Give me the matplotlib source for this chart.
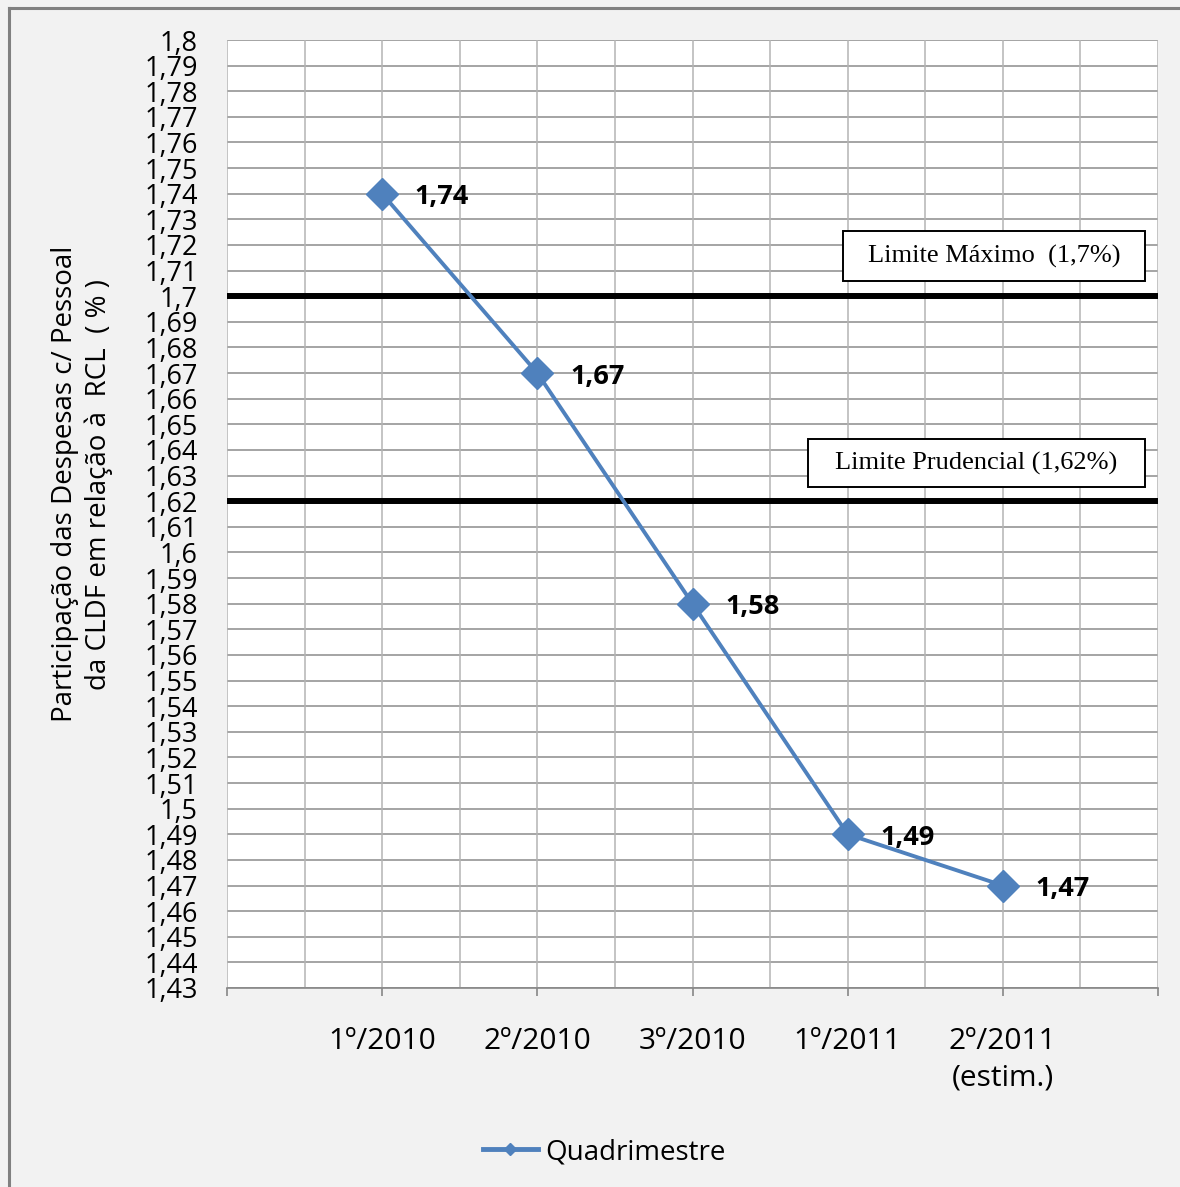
import numpy as np
import matplotlib
matplotlib.use('Agg')
import matplotlib.pyplot as plt
from matplotlib.patches import Rectangle
from matplotlib.lines import Line2D

plt.rcParams['font.family'] = ['Open Sans', 'DejaVu Sans']

# ---- data ----
categorias = ['1º/2010', '2º/2010', '3º/2010', '1º/2011', '2º/2011\n(estim.)']
valores = [1.74, 1.67, 1.58, 1.49, 1.47]
limite_maximo = 1.70
limite_prudencial = 1.62
y_min, y_max, y_step = 1.43, 1.80, 0.01

AZUL = '#4f81bd'
W, H = 1180, 1187

fig = plt.figure(figsize=(W/100, H/100), dpi=100, facecolor='#f2f2f2')
# plot area in pixels: x 227..1158, y 40..988
ax = fig.add_axes([227/W, 1-988/H, (1158-227)/W, (988-40)/H])
ax.set_facecolor('white')

x = np.arange(1, len(valores)+1)
ax.set_xlim(0, len(valores)+1)
ax.set_ylim(y_min, y_max)

yt = np.round(np.arange(y_min, y_max+y_step/2, y_step), 2)
ax.set_yticks(yt)
ax.set_yticklabels([f"{v:g}".replace('.', ',') for v in yt], fontsize=19.5)
ax.tick_params(axis='y', length=0, pad=21)

ax.set_xticks(np.arange(0, len(valores)+2))
ax.set_xticklabels([''] + categorias + [''], fontsize=21.5, linespacing=1.35)
ax.set_xticks(np.arange(0.5, len(valores)+1, 1), minor=True)
ax.tick_params(axis='x', which='major', length=6, width=1.2, color='#868686', pad=22)
ax.tick_params(axis='x', which='minor', length=0)

# grid
for v in yt:
    ax.axhline(v, color='#8c8c8c', lw=1.1, zorder=0)
for v in np.arange(0, len(valores)+1.01, 0.5):
    ax.axvline(v, color='#b4b4b4', lw=1.1, zorder=0)
for s in ax.spines.values():
    s.set_visible(False)
ax.spines['bottom'].set_visible(True)
ax.spines['bottom'].set_color('#868686')
ax.spines['bottom'].set_linewidth(1.2)

# limit lines
ax.axhline(limite_maximo, color='black', lw=4.3, zorder=2)
ax.axhline(limite_prudencial, color='black', lw=4.3, zorder=2)

# series
ax.plot(x, valores, color=AZUL, lw=2.8, marker='D', ms=16, zorder=4, clip_on=False)
for xi, yi in zip(x, valores):
    ax.annotate(f"{yi:g}".replace('.', ','), (xi, yi), xytext=(23.5, -2.5),
                textcoords='offset points', ha='left', va='center',
                fontsize=19.5, fontweight='bold', zorder=5)

# limit boxes (axes fraction)
def caixa(x0, y0, w, h, texto):
    ax.add_patch(Rectangle((x0, y0), w, h, transform=ax.transAxes,
                           facecolor='white', edgecolor='black', lw=1.4, zorder=6))
    ax.text(x0+w/2, y0+h/2, texto, transform=ax.transAxes, ha='center', va='center',
            family='Liberation Serif', fontsize=19, zorder=7)

caixa((843-227)/931, (988-281)/948, 302/931, 50/948, 'Limite Máximo  (1,7%)')
caixa((808-227)/931, (988-487)/948, 337/931, 48/948, 'Limite Prudencial (1,62%)')

# y label
fig.text(82/W, 1-484/H,
         'Participação das Despesas c/ Pessoal\nda CLDF em relação à  RCL  ( % )',
         rotation=90, ha='center', va='center', fontsize=20, linespacing=1.25)

# legend
h = Line2D([], [], color=AZUL, lw=3.5, marker='D', ms=6)
fig.legend([h], ['Quadrimestre'], loc='center', bbox_to_anchor=(604/W, 1-1152/H),
           frameon=False, fontsize=20, handlelength=2.0, handletextpad=0.25)

# outer border (left and top)
fig.add_artist(Line2D([9/W, 9/W], [0, 1-8/H], color='#808080', lw=2.2))
fig.add_artist(Line2D([9/W, 1], [1-8/H, 1-8/H], color='#808080', lw=2.2))

fig.savefig('out.png', dpi=100, facecolor=fig.get_facecolor())
